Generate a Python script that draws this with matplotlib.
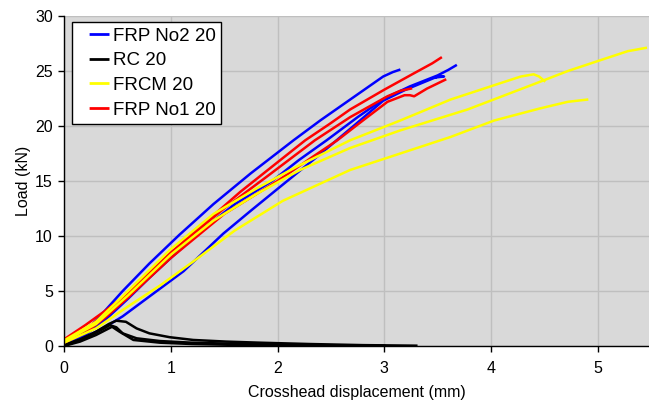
import matplotlib.pyplot as plt
from matplotlib.lines import Line2D

plt.rcParams['font.family'] = ['Liberation Sans', 'DejaVu Sans']

# FRP No2 20 specimens
blue_a_x = [0, 0.15, 0.3, 0.55, 0.8, 1.08, 1.4, 1.75, 2.15, 2.4, 2.68, 2.99, 3.08, 3.14]
blue_a_y = [0.2, 0.9, 2.3, 5.0, 7.5, 10.1, 12.9, 15.7, 18.7, 20.5, 22.4, 24.5, 24.9, 25.1]
blue_b_x = [0, 0.2, 0.4, 0.6, 0.8, 1.0, 1.3, 1.6, 1.95, 2.2, 2.46, 2.75, 3.0, 3.24, 3.5, 3.6, 3.67]
blue_b_y = [0.2, 1.0, 2.5, 4.3, 6.2, 8.0, 10.6, 12.9, 15.0, 16.9, 18.7, 20.8, 22.5, 23.6, 24.6, 25.1, 25.5]
blue_c_x = [0, 0.2, 0.4, 0.55, 0.8, 1.12, 1.49, 1.75, 1.99, 2.37, 2.7, 2.99, 3.2, 3.4, 3.5, 3.56, 3.47]
blue_c_y = [0.1, 0.8, 1.8, 2.7, 4.5, 6.8, 10.2, 12.3, 14.2, 17.2, 19.9, 22.3, 23.3, 24.1, 24.5, 24.5, 24.4]

# RC 20 specimens
black_a_x = [0, 0.15, 0.3, 0.42, 0.49, 0.58, 0.68, 0.8, 0.99, 1.21, 1.52, 1.84, 2.3, 2.8, 3.3]
black_a_y = [0.1, 0.6, 1.3, 2.0, 2.3, 2.2, 1.6, 1.15, 0.8, 0.55, 0.4, 0.3, 0.18, 0.08, 0.03]
black_b_x = [0, 0.15, 0.3, 0.43, 0.49, 0.55, 0.68, 0.9, 1.2, 1.6, 2.0, 2.6, 3.0]
black_b_y = [0.05, 0.5, 1.2, 1.9, 1.7, 1.15, 0.7, 0.45, 0.3, 0.2, 0.12, 0.06, 0.03]
black_c_x = [0, 0.15, 0.3, 0.45, 0.52, 0.65, 0.9, 1.2, 1.6, 2.2, 2.6]
black_c_y = [0.0, 0.4, 1.0, 1.75, 1.3, 0.55, 0.3, 0.18, 0.1, 0.05, 0.03]

# FRCM 20 specimens
yellow_a_x = [0, 0.3, 0.6, 1.0, 1.4, 1.8, 2.21, 2.68, 3.15, 3.78, 4.4, 4.72, 5.03, 5.28, 5.45]
yellow_a_y = [0.4, 2.0, 4.6, 8.3, 11.4, 13.8, 16.0, 18.0, 19.6, 21.5, 23.8, 25.0, 26.0, 26.8, 27.1]
yellow_b_x = [0, 0.3, 0.6, 1.0, 1.4, 1.8, 2.18, 2.68, 3.15, 3.62, 4.09, 4.28, 4.40, 4.45, 4.50]
yellow_b_y = [0.5, 2.2, 5.0, 8.8, 12.0, 14.3, 16.3, 18.7, 20.5, 22.4, 23.9, 24.5, 24.7, 24.5, 24.1]
yellow_c_x = [0, 0.3, 0.6, 0.9, 1.2, 1.6, 2.05, 2.68, 3.15, 3.62, 4.03, 4.46, 4.72, 4.9]
yellow_c_y = [0.3, 1.6, 3.6, 5.5, 7.6, 10.5, 13.2, 16.0, 17.5, 19.0, 20.5, 21.6, 22.2, 22.4]

# FRP No1 20 specimens
red_a_x = [0, 0.2, 0.4, 0.63, 0.9, 1.2, 1.45, 1.65, 2.0, 2.26, 2.49, 2.68, 3.0, 3.28, 3.45, 3.53]
red_a_y = [0.6, 1.9, 3.3, 5.0, 7.5, 10.2, 12.3, 14.0, 16.7, 18.7, 20.2, 21.5, 23.3, 24.8, 25.7, 26.2]
red_b_x = [0, 0.2, 0.4, 0.6, 0.8, 1.0, 1.5, 2.0, 2.3, 2.56, 2.8, 3.03, 3.19, 3.24, 3.28, 3.4, 3.57]
red_b_y = [0.3, 1.2, 2.7, 4.4, 6.2, 8.0, 12.0, 15.0, 17.0, 18.7, 20.5, 22.2, 22.8, 22.8, 22.7, 23.4, 24.2]
red_c_x = [0, 0.2, 0.4, 0.6, 0.8, 1.0, 1.5, 1.9, 2.35, 2.68, 3.03, 3.15, 3.25]
red_c_y = [0.5, 1.5, 3.0, 4.8, 6.7, 8.5, 12.5, 15.4, 18.7, 20.8, 22.7, 23.2, 23.4]

labels = ['FRP No2 20', 'RC 20', 'FRCM 20', 'FRP No1 20']
colors = ['#0000FF', '#000000', '#FFFF00', '#FF0000']

fig = plt.figure(figsize=(6.49, 4.08), dpi=100)
ax = fig.add_axes([64 / 649, 1 - 346 / 408, 1 - 64 / 649, 330 / 408])
ax.set_facecolor('#D9D9D9')

lw = 1.8
for x, y in [(blue_a_x, blue_a_y), (blue_b_x, blue_b_y), (blue_c_x, blue_c_y)]:
    ax.plot(x, y, color=colors[0], lw=lw)
for x, y in [(black_a_x, black_a_y), (black_b_x, black_b_y), (black_c_x, black_c_y)]:
    ax.plot(x, y, color=colors[1], lw=lw)
for x, y in [(red_a_x, red_a_y), (red_b_x, red_b_y), (red_c_x, red_c_y)]:
    ax.plot(x, y, color=colors[3], lw=lw)
for x, y in [(yellow_a_x, yellow_a_y), (yellow_b_x, yellow_b_y), (yellow_c_x, yellow_c_y)]:
    ax.plot(x, y, color=colors[2], lw=lw)

ax.set_xlim(0, 5.48)
ax.set_ylim(0, 30)
ax.set_xticks([0, 1, 2, 3, 4, 5])
ax.set_yticks([0, 5, 10, 15, 20, 25, 30])
ax.grid(True, color='#BFBFBF', lw=1)
ax.set_axisbelow(True)
for s in ['top', 'right']:
    ax.spines[s].set_visible(False)
for s in ['left', 'bottom']:
    ax.spines[s].set_color('black')
    ax.spines[s].set_linewidth(1)
ax.tick_params(direction='out', length=4, width=1, labelsize=11.5, colors='black')
ax.tick_params(axis='x', pad=7)
ax.tick_params(axis='y', pad=4)
ax.set_xlabel('Crosshead displacement (mm)', fontsize=11.5, labelpad=6)
ax.set_ylabel('Load (kN)', fontsize=11.5, labelpad=3)

# legend handles: blank lead-in, then a short coloured stroke
handles = [Line2D([], [], color=c, lw=2, linestyle=(0, (0, 4.0, 7.2, 100)))
           for c in colors]
leg = ax.legend(handles, labels, loc='upper left', bbox_to_anchor=(0.0137, 0.982),
                borderaxespad=0, fancybox=False, framealpha=1, edgecolor='black',
                fontsize=13.5, handlelength=1.65, handletextpad=0.22, labelspacing=0.4,
                borderpad=0.3)
leg.get_frame().set_linewidth(1)

fig.savefig('out.png', dpi=100)
